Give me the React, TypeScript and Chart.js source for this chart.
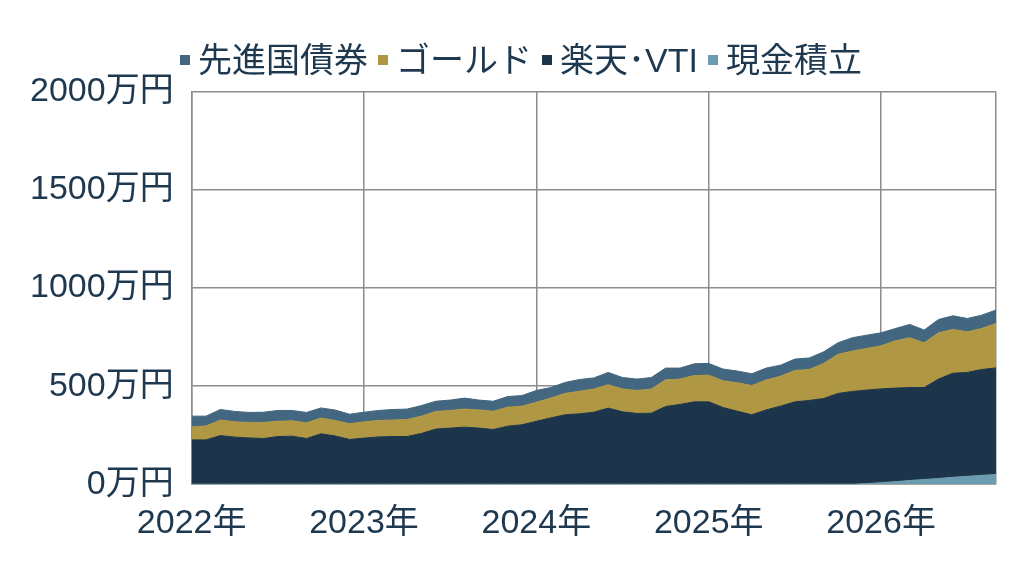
import React, { useEffect, useRef } from "react";
import Chart from "chart.js/auto";

// 月次ラベル (2022/01 〜 2026/09)
const months = [
  "2022/01", "2022/02", "2022/03", "2022/04", "2022/05", "2022/06", "2022/07", "2022/08", "2022/09", "2022/10", "2022/11", "2022/12",
  "2023/01", "2023/02", "2023/03", "2023/04", "2023/05", "2023/06", "2023/07", "2023/08", "2023/09", "2023/10", "2023/11", "2023/12",
  "2024/01", "2024/02", "2024/03", "2024/04", "2024/05", "2024/06", "2024/07", "2024/08", "2024/09", "2024/10", "2024/11", "2024/12",
  "2025/01", "2025/02", "2025/03", "2025/04", "2025/05", "2025/06", "2025/07", "2025/08", "2025/09", "2025/10", "2025/11", "2025/12",
  "2026/01", "2026/02", "2026/03", "2026/04", "2026/05", "2026/06", "2026/07", "2026/08", "2026/09",
];

// 各資産の評価額 (万円)
const cash = [
  0, 0, 0, 0, 0, 0, 0, 0, 0, 0, 0, 0,
  0, 0, 0, 0, 0, 0, 0, 0, 0, 0, 0, 0,
  0, 0, 0, 0, 0, 0, 0, 0, 0, 0, 0, 0,
  0, 0, 0, 0, 0, 0, 0, 0, 0, 0, 0, 3,
  8, 13, 19, 24, 29, 35, 40, 45, 50,
];
const vti = [
  226, 226, 248, 240, 236, 233, 243, 245, 233, 257, 246, 228,
  235, 241, 243, 243, 259, 281, 286, 291, 286, 279, 296, 303,
  321, 338, 354, 359, 367, 388, 369, 361, 362, 396, 407, 420,
  420, 391, 372, 354, 379, 398, 420, 427, 437, 463, 473, 477,
  478, 477, 474, 469, 507, 531, 530, 540, 543,
];
const gold = [
  66, 71, 79, 78, 79, 82, 78, 78, 80, 80, 79, 80,
  83, 84, 84, 87, 88, 90, 90, 92, 93, 93, 97, 95,
  97, 101, 109, 115, 118, 119, 117, 117, 123, 136, 129, 134,
  136, 136, 145, 149, 152, 153, 160, 158, 179, 199, 206, 212,
  220, 241, 254, 228, 236, 223, 207, 209, 227,
];
const bonds = [
  55, 50, 54, 53, 51, 52, 55, 53, 53, 52, 53, 49,
  49, 51, 54, 53, 54, 52, 53, 56, 50, 51, 54, 54,
  60, 54, 56, 60, 57, 63, 58, 58, 59, 60, 56, 60,
  60, 60, 60, 60, 61, 56, 58, 59, 59, 59, 68, 68,
  66, 63, 68, 65, 68, 70, 68, 68, 68,
];

const yTicks = [0, 500, 1000, 1500, 2000];

const FONT = "'Liberation Sans', Arial, 'Noto Sans CJK JP', sans-serif";
const TEXT = "#1e3850";
const GRID = "#8c8c8c";

const series = [
  { label: "現金積立", data: cash, color: "#6b9caf", fill: "origin" },
  { label: "楽天･VTI", data: vti, color: "#1c354b", fill: "-1" },
  { label: "ゴールド", data: gold, color: "#b09744", fill: "-1" },
  { label: "先進国債券", data: bonds, color: "#436780", fill: "-1" },
];

const App = () => {
  const canvasRef = useRef<HTMLCanvasElement>(null);

  useEffect(() => {
    document.body.style.margin = "0";
    if (!canvasRef.current) return;

    const chart = new Chart(canvasRef.current, {
      type: "line",
      data: {
        labels: months,
        datasets: series.map((s) => ({
          label: s.label,
          data: s.data,
          backgroundColor: s.color,
          borderColor: s.color,
          fill: s.fill,
        })),
      },
      options: {
        animation: false,
        responsive: true,
        maintainAspectRatio: false,
        elements: {
          point: { radius: 0 },
          line: { borderWidth: 1, tension: 0 },
        },
        layout: { padding: { top: 92, left: 12, right: 28, bottom: 7 } },
        plugins: {
          legend: { display: false },
          tooltip: { enabled: false },
        },
        scales: {
          x: {
            type: "category",
            offset: false,
            grid: {
              drawTicks: false,
              lineWidth: 1.5,
              color: (ctx: any) =>
                ctx.index % 12 === 0 || ctx.index === months.length - 1 ? GRID : "rgba(0,0,0,0)",
            },
            border: { color: GRID, width: 1.5 },
            ticks: {
              autoSkip: false,
              maxRotation: 0,
              padding: 19,
              color: TEXT,
              font: { family: FONT, size: 34 },
              callback: (_v: any, i: number) =>
                months[i].endsWith("/01") ? `${months[i].slice(0, 4)}年` : "",
            },
          },
          y: {
            stacked: true,
            min: yTicks[0],
            max: yTicks[yTicks.length - 1],
            grid: { drawTicks: false, lineWidth: 1.5, color: GRID },
            border: { color: GRID, width: 1.5 },
            ticks: {
              stepSize: 500,
              padding: 18,
              color: TEXT,
              font: { family: FONT, size: 34 },
              callback: (v: any) => `${v}万円`,
            },
          },
        },
      },
    });

    return () => {
      chart.destroy();
    };
  }, []);

  // 凡例は上から積み上げ順 (先進国債券が先頭)
  const legendItems = [...series].reverse();

  return (
    <div style={{ width: 1024, height: 570, position: "relative" }}>
      <canvas ref={canvasRef} />
      <div
        style={{
          position: "absolute",
          top: 40,
          left: 180,
          display: "flex",
          alignItems: "center",
          fontFamily: FONT,
          fontSize: 34,
          lineHeight: "40px",
          color: TEXT,
          whiteSpace: "nowrap",
        }}
      >
        {legendItems.map((s) => (
          <span key={s.label} style={{ display: "flex", alignItems: "center", marginRight: 10 }}>
            <span style={{ width: 10, height: 10, background: s.color, marginRight: 8 }} />
            {s.label}
          </span>
        ))}
      </div>
    </div>
  );
};

export default App;
